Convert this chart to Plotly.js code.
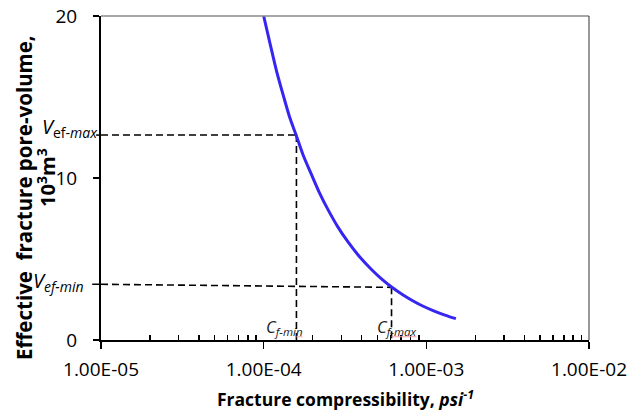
<!DOCTYPE html>
<html>
<head>
<meta charset="utf-8">
<script src="https://cdn.plot.ly/plotly-3.0.1.min.js"></script>
<style>html,body{margin:0;padding:0;background:#fff;}#chart{width:628px;height:412px;}</style>
</head>
<body>
<div id="chart"></div>
<script>
// Curve: fracture compressibility (psi^-1) vs effective pore volume (10^3 m^3)
var compressibility = [1.00e-4, 1.10e-4, 1.20e-4, 1.32e-4, 1.45e-4, 1.59e-4, 1.75e-4, 1.95e-4, 2.20e-4, 2.50e-4, 2.85e-4, 3.30e-4, 3.90e-4, 4.60e-4, 5.30e-4, 6.11e-4, 7.20e-4, 8.40e-4, 9.50e-4, 1.10e-3, 1.30e-3, 1.52e-3];
var poreVolume      = [20.0, 18.2, 16.6, 15.1, 13.7, 12.6, 11.4, 10.3, 9.1, 8.0, 7.0, 6.05, 5.12, 4.35, 3.77, 3.27, 2.78, 2.38, 2.1, 1.82, 1.54, 1.32];

// Reference (dashed) lines
var cfMin = 1.59e-4, cfMax = 6.11e-4;
var vefMax = 12.65;
var vefMinLeft = 3.44, vefMinRight = 3.25;
var xStart = 1e-5;

var xTickVals = [1e-5, 1e-4, 1e-3, 1e-2];
var xTickText = ['1.00E-05', '1.00E-04', '1.00E-03', '1.00E-02'];
var yTickVals = [0, 10, 20];

var minorVals = [];
[1e-5, 1e-4, 1e-3].forEach(function (d) { for (var k = 2; k <= 9; k++) minorVals.push(d * k); });

var FONT = 'Open Sans, Lato, sans-serif';
var dashStyle = '7px,4px';
var dashLine = {color: '#000', width: 1.6, dash: dashStyle};

var traces = [
  { x: [xStart, cfMin], y: [vefMax, vefMax], mode: 'lines', line: dashLine, hoverinfo: 'skip' },
  { x: [cfMin, cfMin], y: [vefMax, 0], mode: 'lines', line: dashLine, hoverinfo: 'skip' },
  { x: [xStart, cfMax], y: [vefMinLeft, vefMinRight], mode: 'lines', line: dashLine, hoverinfo: 'skip' },
  { x: [cfMax, cfMax], y: [vefMinRight, 0], mode: 'lines', line: dashLine, hoverinfo: 'skip' },
  { x: compressibility, y: poreVolume, mode: 'lines', line: {color: '#3626f2', width: 3, shape: 'spline', smoothing: 0.8}, hoverinfo: 'skip' }
];

var layout = {
  width: 628, height: 412,
  margin: {l: 101, r: 39, t: 16, b: 72},
  paper_bgcolor: '#fff', plot_bgcolor: '#fff',
  showlegend: false,
  font: {family: FONT, size: 19, color: '#000'},
  xaxis: {
    type: 'log', range: [-5, -2],
    tickmode: 'array', tickvals: xTickVals, ticktext: xTickText,
    ticks: 'outside', ticklen: 7, tickwidth: 1.5, tickcolor: '#000',
    ticklabelstandoff: 4,
    showline: true, linecolor: '#000', linewidth: 2,
    showgrid: false, zeroline: false,
    tickfont: {family: FONT, size: 19, color: '#000'},
    minor: {tickmode: 'array', tickvals: minorVals, ticks: 'inside', ticklen: 5, tickwidth: 1.5, tickcolor: '#000', showgrid: false}
  },
  yaxis: {
    range: [0, 20],
    tickmode: 'array', tickvals: yTickVals,
    ticks: 'outside', ticklen: 6, tickwidth: 1.5, tickcolor: '#000',
    ticklabelstandoff: 12,
    showline: true, linecolor: '#000', linewidth: 2,
    showgrid: false, zeroline: false,
    tickfont: {family: FONT, size: 19, color: '#000'}
  },
  shapes: [
    {type: 'line', xref: 'paper', yref: 'paper', x0: 0, x1: 1, y0: 1, y1: 1, line: {color: '#8a8a8a', width: 1.5}},
    {type: 'line', xref: 'paper', yref: 'paper', x0: 1, x1: 1, y0: 0, y1: 1, line: {color: '#333', width: 1}},
    {type: 'line', xref: 'paper', yref: 'y', x0: -0.018, x1: 0, y0: vefMinLeft, y1: vefMinLeft, line: {color: '#000', width: 1.5}},
    {type: 'line', xref: 'paper', yref: 'y', x0: -0.01, x1: 0, y0: vefMax, y1: vefMax, line: {color: '#000', width: 1.5}},
    {type: 'line', xref: 'x', yref: 'y', xsizemode: 'pixel', xanchor: cfMin, x0: -20, x1: 6, y0: 0.2, y1: 0.2, line: {color: '#f2a5a5', width: 1}},
    {type: 'line', xref: 'x', yref: 'y', xsizemode: 'pixel', xanchor: cfMax, x0: -10, x1: 25, y0: 0.2, y1: 0.2, line: {color: '#f2a5a5', width: 1}}
  ],
  annotations: [
    {xref: 'paper', yref: 'paper', x: -0.158, y: 0.441, textangle: -90, showarrow: false,
     text: '<b>Effective  fracture pore-volume,</b>', font: {family: FONT, size: 20.5, color: '#000'}, xanchor: 'center', yanchor: 'middle'},
    {xref: 'paper', yref: 'paper', x: -0.113, y: 0.503, textangle: -90, showarrow: false,
     text: '<b>10<sup>3</sup>m<sup>3</sup></b>', font: {family: FONT, size: 20, color: '#000'}, xanchor: 'center', yanchor: 'middle'},
    {xref: 'paper', yref: 'paper', x: 0.5, y: -0.18, showarrow: false,
     text: '<b>Fracture compressibility, <i>psi<sup>-1</sup></i></b>', font: {family: FONT, size: 17.5, color: '#000'}, xanchor: 'center', yanchor: 'middle'},
    {xref: 'paper', yref: 'y', x: 0, y: 13.1, xanchor: 'right', yanchor: 'middle', xshift: -1, showarrow: false,
     text: '<i>V</i><sub>ef-<i>max</i></sub>', font: {family: FONT, size: 20, color: '#000'}},
    {xref: 'paper', yref: 'y', x: 0, y: 3.64, xanchor: 'right', yanchor: 'middle', xshift: -15, showarrow: false,
     text: '<i>V<sub>ef-min</sub></i>', font: {family: FONT, size: 20, color: '#000'}},
    {xref: 'x', yref: 'y', x: Math.log10(cfMin), y: 0.8, xanchor: 'center', yanchor: 'middle', xshift: -12, showarrow: false,
     text: '<i>C<sub>f-min</sub></i>', font: {family: FONT, size: 16.5, color: '#222'}},
    {xref: 'x', yref: 'y', x: Math.log10(cfMax), y: 0.8, xanchor: 'center', yanchor: 'middle', xshift: 5, showarrow: false,
     text: '<i>C<sub>f-max</sub></i>', font: {family: FONT, size: 16.5, color: '#222'}}
  ]
};

Plotly.newPlot('chart', traces, layout, {staticPlot: true, displayModeBar: false});
</script>
</body>
</html>
